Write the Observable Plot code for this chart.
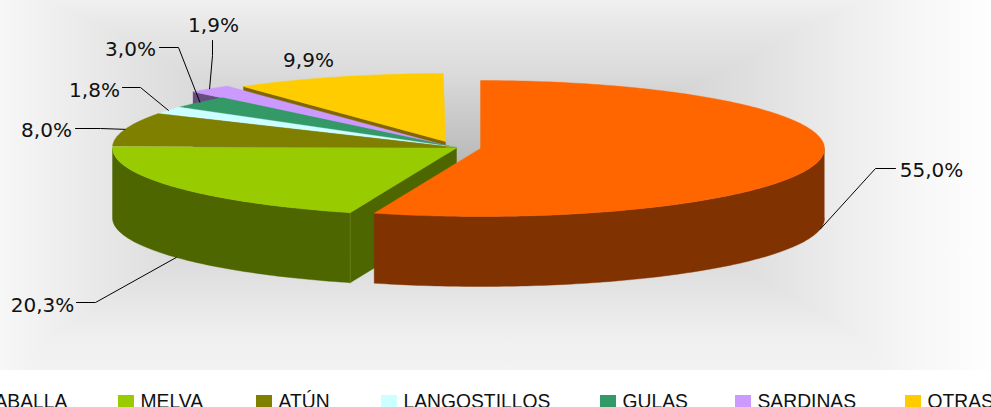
<!DOCTYPE html>
<html><head><meta charset="utf-8">
<script src="https://cdn.jsdelivr.net/npm/d3@7"></script>
<script src="https://cdn.jsdelivr.net/npm/@observablehq/plot@0.6"></script>
<style>
html,body{margin:0;padding:0;background:#fff}
#wrap{position:relative;width:991px;height:407px;overflow:hidden}
#glow{position:absolute;left:0;top:0;width:991px;height:370px;
background-image:
 linear-gradient(to right,#f7f7f7 0px,#eeeeee 60px,#e2e2e2 140px,#d8d8d8 210px,#c4c4c4 355px,#b8b8b8 455px,#c4c4c4 555px,#d8d8d8 700px,#e2e2e2 770px,#eeeeee 850px,#f6f6f6 910px,#fefefe 991px),
 linear-gradient(to bottom,#f0f0f0 0px,#e6e6e6 30px,#dcdcdc 70px,#bfbfbf 145px,#b8b8b8 165px,#bfbfbf 185px,#dcdcdc 260px,#e6e6e6 300px,#efefef 335px,#f3f3f3 370px);
background-blend-mode:lighten;}
#chart{position:absolute;left:0;top:0}
</style></head><body>
<div id="wrap"><div id="glow"></div><div id="chart"></div></div>
<script>
const names = ["CABALLA","MELVA","ATÚN","LANGOSTILLOS","GULAS","SARDINAS","OTRAS"];
const shares = [55.0,20.3,8.0,1.8,3.0,1.9,9.9];
const topColors = ["#ff6600","#99cc00","#808000","#ccffff","#339966","#cc99ff","#ffcc00"];
const sideColors = ["#803300","#4d6600","#404000","#668080","#1a4d33","#664d80","#806600"];
const shareLabels = ["55,0%","20,3%","8,0%","1,8%","3,0%","1,9%","9,9%"];

// Layout of the exploded pie
const W = 991, H = 407, RX = 344, RY = 68, DEPTH = 70;
const centers = [[480,148],[456,147.5],[456,147],[456,147],[456,147],[445,145],[445,141]];
const radiusScale = [1,1,1,1,1,1.08,1];
// Leader elbow and end, label centre (layout only)
const elbows = [[875,168],[95,302],[100,128],[140,87],[178,47],[212,55],null];
const leaderEnds = [[895,168],[76,302],[75,128],[122,87],[159,47],[212,40],null];
const labelCentres = [[931,170],[42,305],[46,130],[94,90],[130,49],[213,25],[308,60]];
// Legend layout
const legendX = [-42,118,256,381,600,735,905];

// Angles
let acc = 0;
const slices = names.map((name,i)=>{
  const a0 = acc/100*2*Math.PI; acc += shares[i];
  const a1 = acc/100*2*Math.PI;
  const [cx,cy] = centers[i]; const k = radiusScale[i];
  const at = (a,dy=0)=>({x:cx+RX*k*Math.sin(a), y:cy-RY*k*Math.cos(a)+dy});
  return {name,i,a0,a1,cx,cy,at,top:topColors[i],side:sideColors[i]};
});
const arc = (s,a0,a1,dy=0)=>{
  const pts=[]; const n=Math.max(2,Math.ceil(Math.abs(a1-a0)*60));
  for(let j=0;j<=n;j++) pts.push(s.at(a0+(a1-a0)*j/n,dy));
  return pts;
};
const topPoly = s=>[{x:s.cx,y:s.cy},...arc(s,s.a0,s.a1),{x:s.cx,y:s.cy}];
const wall = (s,a0,a1)=>[...arc(s,a0,a1),...arc(s,a1,a0,DEPTH)];
const face = (s,a)=>{const p=s.at(a);return [p,{x:s.cx,y:s.cy},{x:s.cx,y:s.cy+DEPTH},{x:p.x,y:p.y+DEPTH}];};
const poly = (pts,c)=>Plot.line(pts,{x:"x",y:"y",fill:c,stroke:c,strokeWidth:0.4,curve:"linear"});

const [cab,mel,atu,lan,gul,sar,otr] = slices;
const marks = [
  // back to front
  poly(face(otr,otr.a0),otr.side),
  poly(topPoly(otr),otr.top),
  poly(face(sar,sar.a0),sar.side),
  poly(topPoly(sar),sar.top),
  poly(topPoly(gul),gul.top),
  poly(topPoly(lan),lan.top),
  poly(topPoly(atu),atu.top),
  poly(face(mel,mel.a0),mel.side),
  poly(wall(mel,mel.a0,1.5*Math.PI),mel.side),
  Plot.line([mel.at(mel.a0),mel.at(mel.a0,DEPTH)],{x:"x",y:"y",stroke:"#5f7a0f",strokeWidth:1}),
  poly(topPoly(mel),mel.top),
  poly(wall(cab,0.5*Math.PI,cab.a1),cab.side),
  poly(topPoly(cab),cab.top)
];

// Leaders start at the rim at each slice's middle angle
slices.forEach((s,i)=>{
  if(!elbows[i]) return;
  const mid=(s.a0+s.a1)/2;
  const onWall = Math.cos(mid)<0 ;
  const p = s.at(mid,onWall?DEPTH:0);
  const pts=[p,{x:elbows[i][0],y:elbows[i][1]},{x:leaderEnds[i][0],y:leaderEnds[i][1]}];
  marks.push(Plot.line(pts,{x:"x",y:"y",stroke:"#000",strokeWidth:1,curve:"linear"}));
});

marks.push(Plot.text(shareLabels.map((t,i)=>({t,x:labelCentres[i][0],y:labelCentres[i][1]})),
  {x:"x",y:"y",text:"t",fontFamily:"DejaVu Sans",fontSize:20,fill:"#111",textAnchor:"middle"}));

const legend = names.map((n,i)=>({n,x:legendX[i]}));
marks.push(Plot.rect(legend,{x1:"x",x2:d=>d.x+16,y1:()=>395,y2:()=>411,fill:(d,i)=>topColors[i]}));
marks.push(Plot.text(legend,{x:d=>d.x+22,y:()=>401,text:"n",textAnchor:"start",fontFamily:"Liberation Sans",fontSize:19.3,fill:"#111"}));

const svg = Plot.plot({
  width:W,height:H,margin:0,
  x:{domain:[0,W],range:[0,W],axis:null},
  y:{domain:[0,H],range:[0,H],axis:null},
  color:{type:"identity"},
  style:{background:"transparent"},
  marks
});
document.getElementById("chart").appendChild(svg);
</script>
</body></html>
